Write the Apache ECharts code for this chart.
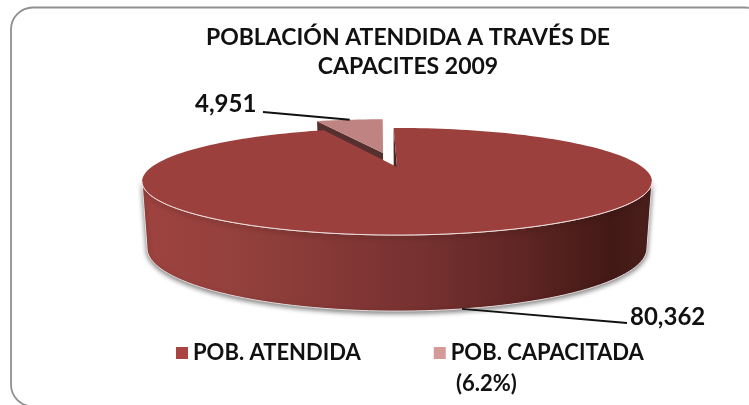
<!DOCTYPE html>
<html>
<head>
<meta charset="utf-8">
<title>Población atendida</title>
<script src="https://cdn.jsdelivr.net/npm/echarts@6/dist/echarts.min.js"></script>
<style>
html, body { margin: 0; padding: 0; background: #fff; overflow: hidden; }
#chart { width: 749px; height: 405px; }
</style>
</head>
<body>
<div id="chart"></div>
<script>
// datos
var categories = ["POB. ATENDIDA", "POB. CAPACITADA"];
var values = [80362, 4951];
var valueLabels = ["80,362", "4,951"];
var legendNote = "(6.2%)";
var titleLines = ["POBLACIÓN ATENDIDA A TRAVÉS DE", "CAPACITES 2009"];

var total = values[0] + values[1];
var startAngle = -1;      // grados, desde arriba en sentido horario
var explode = 0.31;       // separacion de la rebanada chica
var fontName = "Lato, 'Open Sans', sans-serif";

// perspectiva del pastel: plano de arriba y plano de abajo
var persp = 0.271;
var topPlane = { cx: 397, cy: 167, a: 245.4, b: 49.6 };
var basePlane = { cx: 397, cy: 231, a: 240.6, b: 58.4 };

// angulo en grados -> punto de pantalla
function project(plane, deg, r, shift) {
    var rad = deg * Math.PI / 180;
    var u = r * Math.sin(rad) + shift[0];
    var v = r * Math.cos(rad) + shift[1];
    var d = 1 + persp * v;
    return [plane.cx + plane.a * u / d, plane.cy - plane.b * v / d];
}

function arc(plane, from, to, shift) {
    var pts = [];
    var n = Math.ceil(Math.abs(to - from) / 2);
    for (var i = 0; i <= n; i++) {
        pts.push(project(plane, from + (to - from) * i / n, 1, shift));
    }
    return pts;
}

function sliceAngles(i) {
    var mainSweep = values[0] / total * 360;
    if (i === 0) return [startAngle, startAngle + mainSweep];
    return [startAngle + mainSweep, startAngle + 360];
}

function polygon(points, style) {
    return { type: 'polygon', shape: { points: points }, style: style };
}

function polyline(points, color, width) {
    return {
        type: 'polyline',
        shape: { points: points },
        style: { stroke: color, lineWidth: width, fill: 'none' }
    };
}

// rebanada grande
function renderMain(params, api) {
    var ang = sliceAngles(0);
    var none = [0, 0];
    var apexTop = project(topPlane, 0, 0, none);
    var apexBase = project(basePlane, 0, 0, none);
    // solo se ve la pared entre los dos puntos mas anchos
    var side = Math.asin(persp) * 180 / Math.PI;
    var wallTop = arc(topPlane, 90 + side, 270 - side, none);
    var wallBase = arc(basePlane, 90 + side, 270 - side, none);
    var mid = (ang[0] + ang[1]) / 2;
    var anchor = project(basePlane, mid, 1, none);
    var children = [];
    children.push(polygon(wallTop.concat(wallBase.slice().reverse()), {
        fill: new echarts.graphic.LinearGradient(0, 0, 1, 0, [
            { offset: 0, color: '#9e4340' },
            { offset: 0.2, color: '#93403c' },
            { offset: 0.38, color: '#843836' },
            { offset: 0.55, color: '#763130' },
            { offset: 0.75, color: '#5e2523' },
            { offset: 0.92, color: '#421916' },
            { offset: 1, color: '#4c201c' }
        ]),
        stroke: '#e4dada',
        lineWidth: 1,
        shadowBlur: 5,
        shadowOffsetY: 2,
        shadowColor: 'rgba(0,0,0,0.5)'
    }));
    // pared del corte
    children.push(polygon([
        apexTop, project(topPlane, ang[0], 1, none),
        project(basePlane, ang[0], 1, none), apexBase
    ], { fill: '#4a2422' }));
    children.push(polygon([apexTop].concat(arc(topPlane, ang[0], ang[1], none)), {
        fill: '#9c403d'
    }));
    children.push(polyline(wallTop, '#ecdcdb', 1));
    children.push(polyline([anchor, [627, 323]], '#111', 1.8));
    children.push({
        type: 'text',
        style: {
            x: 630, y: 317, text: valueLabels[0], fill: '#111',
            font: 'bold 24px ' + fontName, textAlign: 'left', textVerticalAlign: 'middle'
        }
    });
    return { type: 'group', children: children };
}

// rebanada chica, separada del centro
function renderSmall(params, api) {
    var ang = sliceAngles(1);
    var mid = (ang[0] + ang[1]) / 2;
    var rad = mid * Math.PI / 180;
    var shift = [explode * Math.sin(rad), explode * Math.cos(rad)];
    var apexTop = project(topPlane, 0, 0, shift);
    var apexBase = project(basePlane, 0, 0, shift);
    var anchor = project(topPlane, mid, 1, shift);
    var children = [];
    children.push(polygon([
        apexTop, project(topPlane, ang[0], 1, shift),
        project(basePlane, ang[0], 1, shift), apexBase
    ], { fill: '#56302f' }));
    children.push(polygon([apexTop].concat(arc(topPlane, ang[0], ang[1], shift)), {
        fill: '#bf8381'
    }));
    children.push(polyline([anchor, [263, 112]], '#111', 1.8));
    children.push({
        type: 'text',
        style: {
            x: 195, y: 104, text: valueLabels[1], fill: '#111',
            font: 'bold 24px ' + fontName, textAlign: 'left', textVerticalAlign: 'middle'
        }
    });
    return { type: 'group', children: children };
}

var myChart = echarts.init(document.getElementById('chart'));
var option = {
    animation: false,
    // mismo orden que las series: chica, grande
    color: ['#d49a98', '#a84442'],
    title: {
        text: titleLines.join('\n'),
        left: 403,
        top: 18,
        textAlign: 'center',
        textStyle: {
            fontFamily: fontName,
            fontSize: 23,
            fontWeight: 'bold',
            lineHeight: 29,
            color: '#111'
        }
    },
    legend: {
        data: categories,
        left: 171,
        top: 337,
        icon: 'rect',
        itemWidth: 12,
        itemHeight: 12,
        itemGap: 73,
        textStyle: {
            fontFamily: fontName,
            fontSize: 22,
            fontWeight: 'bold',
            color: '#111'
        }
    },
    graphic: [{
        type: 'rect',
        silent: true,
        shape: { x: 11, y: 7.5, width: 756, height: 399, r: 22 },
        style: { fill: 'none', stroke: '#909090', lineWidth: 1.8 }
    }, {
        type: 'text',
        silent: true,
        left: 456,
        top: 373,
        style: {
            text: legendNote, fill: '#111',
            font: 'bold 22px ' + fontName
        }
    }],
    series: [
        {
            name: categories[1],
            type: 'custom',
            coordinateSystem: 'none',
            z: 2,
            renderItem: renderSmall,
            data: [values[1]]
        },
        {
            name: categories[0],
            type: 'custom',
            coordinateSystem: 'none',
            z: 3,
            renderItem: renderMain,
            data: [values[0]]
        }
    ]
};
myChart.setOption(option);
window.addEventListener('resize', function () {
    myChart.resize();
});
</script>
</body>
</html>
